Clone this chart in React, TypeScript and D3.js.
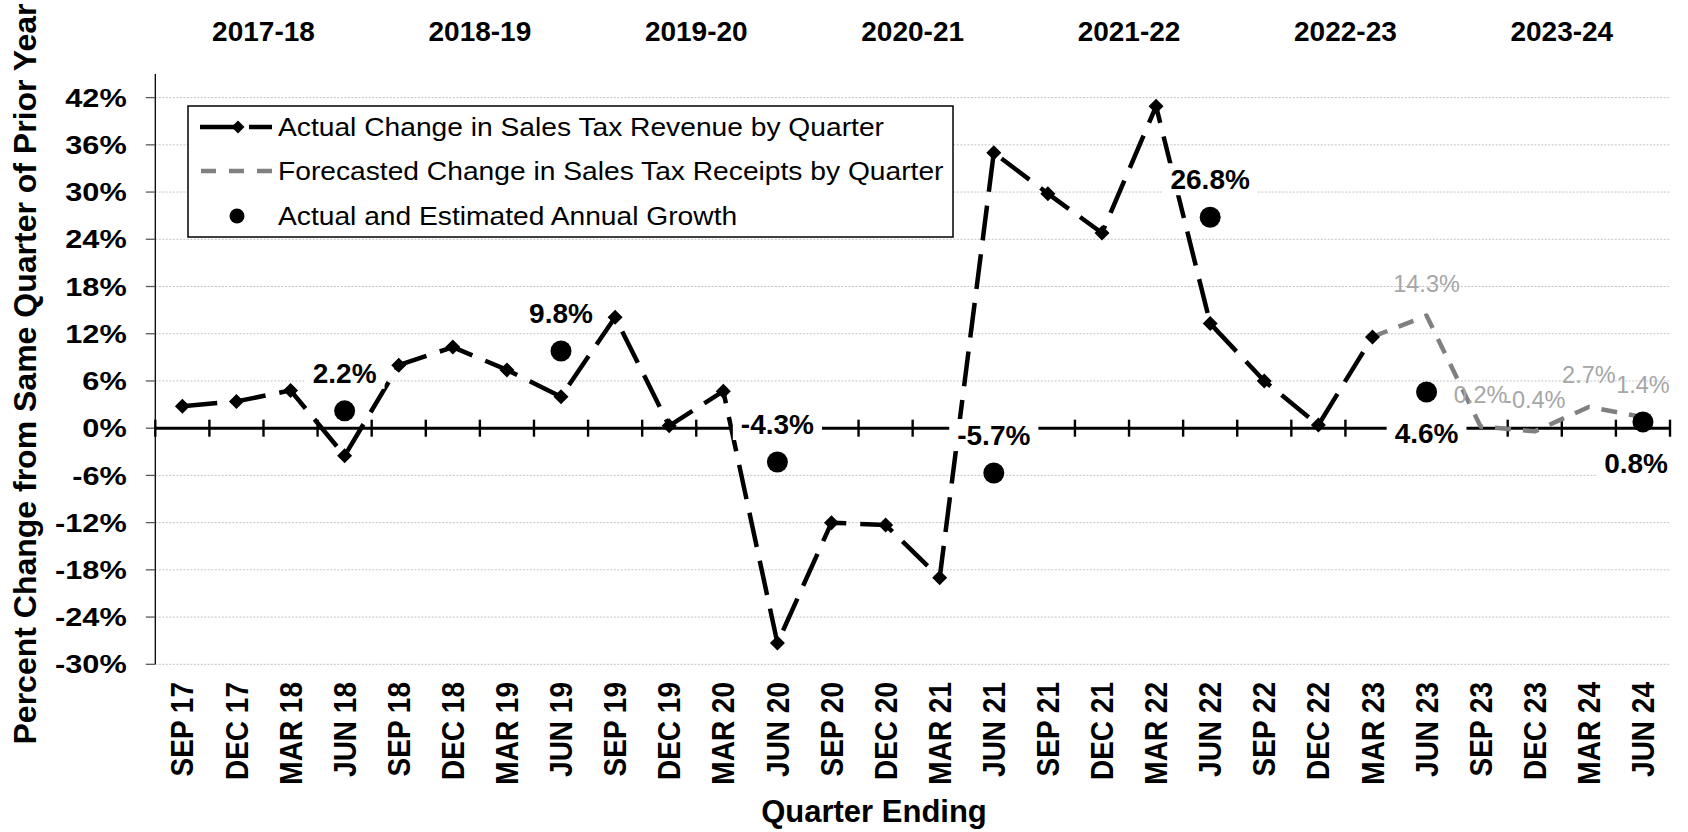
import React from 'react';
import * as d3 from 'd3';

const quarters = [
  'SEP 17', 'DEC 17', 'MAR 18', 'JUN 18', 'SEP 18', 'DEC 18', 'MAR 19', 'JUN 19',
  'SEP 19', 'DEC 19', 'MAR 20', 'JUN 20', 'SEP 20', 'DEC 20', 'MAR 21', 'JUN 21',
  'SEP 21', 'DEC 21', 'MAR 22', 'JUN 22', 'SEP 22', 'DEC 22', 'MAR 23', 'JUN 23',
  'SEP 23', 'DEC 23', 'MAR 24', 'JUN 24',
];
const actualQuarters = quarters.slice(0, 23);
const actualChange = [
  2.8, 3.4, 4.8, -3.5, 8.0, 10.3, 7.4, 4.0, 14.1, 0.3, 4.7, -27.3,
  -12.0, -12.3, -19.0, 35.0, 29.8, 24.8, 40.9, 13.3, 6.0, 0.4, 11.6,
];
const forecastQuarters = ['MAR 23', 'JUN 23', 'SEP 23', 'DEC 23', 'MAR 24', 'JUN 24'];
const forecastChange = [11.6, 14.3, 0.2, -0.4, 2.7, 1.4];
const forecastLabelled = [false, true, true, true, true, true];
const annualQuarters = ['JUN 18', 'JUN 19', 'JUN 20', 'JUN 21', 'JUN 22', 'JUN 23', 'JUN 24'];
const annualGrowth = [2.2, 9.8, -4.3, -5.7, 26.8, 4.6, 0.8];
const annualLabelSide = ['above', 'above', 'above', 'above', 'above', 'below', 'below'];
const fiscalYears = ['2017-18', '2018-19', '2019-20', '2020-21', '2021-22', '2022-23', '2023-24'];
const yTicks = d3.range(-30, 43, 6);
const legendLabels = [
  'Actual Change in Sales Tax Revenue by Quarter',
  'Forecasted Change in Sales Tax Receipts by Quarter',
  'Actual and Estimated Annual Growth',
];

const W = 1688;
const H = 832;
const PLOT = { left: 155.3, right: 1670, top: 74, bottom: 664.3 };
const FONT = '"Liberation Sans", Arial, Helvetica, sans-serif';

const boldWidths: Record<string, number> = { '.': 0.278, '%': 0.889, '-': 0.333 };
const boldTextWidth = (s: string, fs: number) =>
  s.split('').reduce((a, c) => a + (boldWidths[c] ?? 0.556), 0) * fs;

const fmt = (v: number) => `${v.toFixed(1)}%`;

export default function App() {
  const x = d3.scaleBand<string>().domain(quarters).range([PLOT.left, PLOT.right]).paddingInner(0).paddingOuter(0);
  const bw = x.bandwidth();
  const cx = (q: string) => (x(q) as number) + bw / 2;
  const y = d3.scaleLinear().domain([-30, 45]).range([PLOT.bottom, PLOT.top]);
  const y0 = y(0);

  const lineGen = d3.line<[string, number]>().x((d) => cx(d[0])).y((d) => y(d[1]));
  const actualPts: [string, number][] = actualQuarters.map((q, i) => [q, actualChange[i]]);
  const forecastPts: [string, number][] = forecastQuarters.map((q, i) => [q, forecastChange[i]]);

  const boundaries = quarters.map((q) => x(q) as number).concat([PLOT.right]);

  const diamond = (px: number, py: number, r: number) =>
    `M${px},${py - r}L${px + r},${py}L${px},${py + r}L${px - r},${py}Z`;

  const labelFs = 28;
  const grayFs = 23.5;

  return (
    <svg
      width={W}
      height={H}
      viewBox={`0 0 ${W} ${H}`}
      style={{ position: 'absolute', left: 0, top: 0, display: 'block', background: '#fff' }}
      fontFamily={FONT}
    >
      <rect x={0} y={0} width={W} height={H} fill="#fff" />

      {/* gridlines */}
      {yTicks.filter((t) => t !== 0).map((t) => (
        <line key={`g${t}`} x1={PLOT.left} x2={PLOT.right} y1={y(t)} y2={y(t)}
          stroke="#c4c4c4" strokeWidth={1} strokeDasharray="2,1.5" />
      ))}

      {/* y axis */}
      <line x1={PLOT.left} x2={PLOT.left} y1={PLOT.top} y2={PLOT.bottom} stroke="#000" strokeWidth={1.3} />
      {yTicks.map((t) => (
        <g key={`yt${t}`}>
          <line x1={PLOT.left - 9.5} x2={PLOT.left} y1={y(t)} y2={y(t)} stroke="#595959" strokeWidth={1.3} />
          <text transform={`translate(126.7,${y(t)}) scale(1.18,1)`} textAnchor="end" dy="0.35em"
            fontSize={26} fontWeight="bold" fill="#000">{`${t}%`}</text>
        </g>
      ))}

      {/* zero line with ticks */}
      <line x1={PLOT.left} x2={PLOT.right} y1={y0} y2={y0} stroke="#000" strokeWidth={3} />
      {boundaries.map((b, i) => (
        <line key={`xt${i}`} x1={b} x2={b} y1={y0 - 8.5} y2={y0 + 8.5} stroke="#000" strokeWidth={2.4} />
      ))}

      {/* forecast line */}
      <path d={lineGen(forecastPts) as string} fill="none" stroke="#808080" strokeWidth={4.5}
        strokeDasharray="16,12" strokeLinejoin="round" />

      {/* actual line */}
      <path d={lineGen(actualPts) as string} fill="none" stroke="#000" strokeWidth={4.5}
        strokeDasharray="35,14" strokeLinejoin="round" />
      {actualPts.map((d) => (
        <path key={`d${d[0]}`} d={diamond(cx(d[0]), y(d[1]), 7.5)} fill="#000" />
      ))}

      {/* annual growth dots */}
      {annualQuarters.map((q, i) => (
        <circle key={`c${q}`} cx={cx(q)} cy={y(annualGrowth[i])} r={10.5} fill="#000" />
      ))}

      {/* forecast labels */}
      {forecastPts.map((d, i) => forecastLabelled[i] ? (
        <text key={`fl${d[0]}`} x={cx(d[0])} y={y(d[1]) - 32} dy="0.35em" textAnchor="middle"
          fontSize={grayFs} fill="#a6a6a6">{fmt(d[1])}</text>
      ) : null)}

      {/* annual labels */}
      {annualQuarters.map((q, i) => {
        const s = fmt(annualGrowth[i]);
        const tw = boldTextWidth(s, labelFs);
        const lx = Math.min(cx(q), PLOT.right - tw / 2 - 2);
        const ly = y(annualGrowth[i]) + (annualLabelSide[i] === 'above' ? -38 : 41);
        return (
          <g key={`al${q}`}>
            <rect x={lx - tw / 2 - 8} y={ly - 16} width={tw + 16} height={32} fill="#fff" />
            <text x={lx} y={ly} dy="0.35em" textAnchor="middle" fontSize={labelFs} fontWeight="bold" fill="#000">{s}</text>
          </g>
        );
      })}

      {/* legend */}
      <g>
        <rect x={188} y={106} width={765} height={131} fill="#fff" stroke="#000" strokeWidth={1.5} />
        <line x1={200} x2={272} y1={127} y2={127} stroke="#000" strokeWidth={4.5} strokeDasharray="35,14" />
        <path d={diamond(238, 127, 6.5)} fill="#000" />
        <line x1={201} x2={272} y1={171} y2={171} stroke="#808080" strokeWidth={4.5} strokeDasharray="15,13" />
        <circle cx={237} cy={216} r={7.5} fill="#000" />
        {legendLabels.map((l, i) => (
          <text key={l} transform={`translate(278,${[127, 171, 216][i]}) scale(1.085,1)`} dy="0.35em"
            fontSize={26} fill="#000">{l}</text>
        ))}
      </g>

      {/* x tick labels */}
      {quarters.map((q) => (
        <text key={`xl${q}`} transform={`translate(${cx(q)},682) rotate(-90) scale(1,1.1)`}
          textAnchor="end" dy="0.36em" fontSize={28} fontWeight="bold" fill="#000">{q}</text>
      ))}

      {/* fiscal year labels */}
      {fiscalYears.map((fy, i) => {
        const qs = quarters.slice(i * 4, i * 4 + 4);
        const mx = d3.mean(qs, (q) => cx(q)) as number;
        return (
          <text key={fy} x={mx} y={40.7} textAnchor="middle" fontSize={28} fontWeight="bold" fill="#000">{fy}</text>
        );
      })}

      {/* axis titles */}
      <text x={874} y={822} textAnchor="middle" fontSize={31} fontWeight="bold" fill="#000">Quarter Ending</text>
      <text transform={`translate(36,374) rotate(-90)`} textAnchor="middle" fontSize={32} fontWeight="bold" fill="#000">
        Percent Change from Same Quarter of Prior Year
      </text>
    </svg>
  );
}
